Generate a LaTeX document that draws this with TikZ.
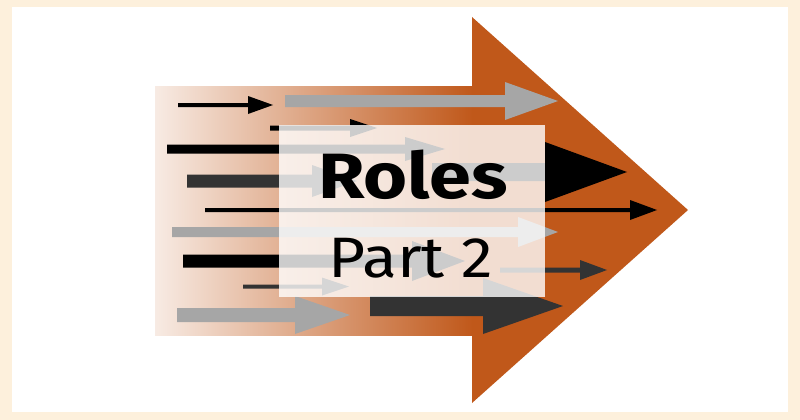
\documentclass[tikz,border=0pt]{standalone}
\usepackage{fontspec}
\newfontfamily\titlefont[FakeStretch=1.12]{Fira Sans}
\newfontfamily\titlefontb[FakeStretch=1.18]{Fira Sans Bold}
\definecolor{org}{HTML}{C0581A}
\definecolor{cream}{HTML}{FDF0DC}
\definecolor{midgray}{HTML}{A6A6A6}
\definecolor{darkgray}{HTML}{333333}
\newcommand{\farrow}[7]{%
  \fill[#7] ({#1},{#3-#4}) -- ({#5},{#3-#4}) -- ({#5},{#3-#6}) -- ({#2},{#3})
    -- ({#5},{#3+#6}) -- ({#5},{#3+#4}) -- ({#1},{#3+#4}) -- cycle;}
\begin{document}
\begin{tikzpicture}[x=1pt,y=-1pt,
  txt/.style={inner sep=0pt,anchor=base,text=black}]
\useasboundingbox (0,0) rectangle (800,420);
% frame
\fill[cream] (0,0) rectangle (800,420);
\fill[white] (12,7) rectangle (788,412);
% big arrow
\shade[left color=org!12, right color=org] (155,86) rectangle (473,335);
\fill[org] (472,17) -- (688,210) -- (472,403) -- cycle;
% small arrows: x1, tip, y, shaft half, head start, head half, colour
\farrow{178}{273}{105}{2}{248}{9}{black}
\farrow{285}{558}{101}{6}{505}{19}{midgray}
\farrow{270}{377}{128}{2.5}{350}{9}{black}
\farrow{167}{445}{149}{4.5}{405}{12}{black}
\farrow{432}{627}{172}{9}{545}{30}{black}
\farrow{187}{357}{181}{6.5}{312}{16}{darkgray}
\farrow{205}{657}{210}{2}{630}{10}{black}
\farrow{172}{558}{232}{5}{518}{15}{midgray}
\farrow{183}{465}{261}{6.5}{412}{20}{black}
\farrow{500}{607}{270}{2.5}{580}{10}{darkgray}
\farrow{243}{349}{286.5}{2}{322}{9}{darkgray}
\farrow{370}{563}{306}{10}{483}{28}{darkgray}
\farrow{177}{350}{315}{7}{295}{19}{midgray}
% veil
\fill[white,opacity=0.8] (279,125) rectangle (545,297);
% texts
\node[txt,font={\titlefontb\fontsize{64}{64}\selectfont}] (t1) at (413,198) {Roles};
\node[txt,font={\titlefont\fontsize{57}{57}\selectfont}] (t2) at (411,277) {Part 2};
\end{tikzpicture}
\end{document}
